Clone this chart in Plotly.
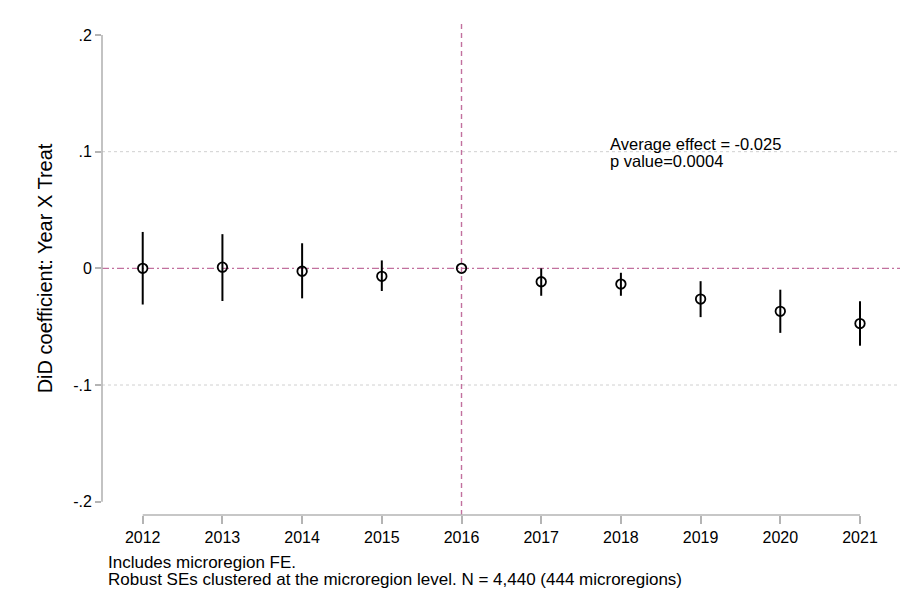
import plotly.graph_objects as go

years = [2012, 2013, 2014, 2015, 2016, 2017, 2018, 2019, 2020, 2021]
coef = [0.000, 0.001, -0.0025, -0.0068, 0.000, -0.0115, -0.0135, -0.0263, -0.0368, -0.0473]
ci_low = [-0.0310, -0.0280, -0.0257, -0.0194, 0.000, -0.0235, -0.0235, -0.0418, -0.0553, -0.0663]
ci_high = [0.0312, 0.0293, 0.0215, 0.0068, 0.000, 0.0000, -0.0038, -0.0110, -0.0183, -0.0282]
ytick_vals = [-0.2, -0.1, 0, 0.1, 0.2]
ytick_text = ["-.2", "-.1", "0", ".1", ".2"]
event_year = 2016
note_lines = ["Includes microregion FE.",
              "Robust SEs clustered at the microregion level. N = 4,440 (444 microregions)"]
effect_text = ["Average effect = -0.025", "p value=0.0004"]

err_plus = [h - c for h, c in zip(ci_high, coef)]
err_minus = [c - l for c, l in zip(coef, ci_low)]

FONT = "Liberation Sans, Arial, sans-serif"
AXCOL = "#b4b4b4"
REFCOL = "#c2709e"

fig = go.Figure()
fig.add_trace(go.Scatter(
    x=years, y=coef, mode="markers",
    marker=dict(symbol="circle-open", size=9.5, color="black", line=dict(width=1.8, color="black")),
    error_y=dict(type="data", symmetric=False, array=err_plus, arrayminus=err_minus,
                 width=0, thickness=2, color="black"),
    showlegend=False, cliponaxis=False,
))

shapes = []
# gridlines
for g in [0.1, -0.1]:
    shapes.append(dict(type="line", xref="paper", yref="y", x0=0, x1=1, y0=g, y1=g,
                       line=dict(color="#d0d0d0", width=1, dash="dot"), layer="below"))
# reference lines
shapes.append(dict(type="line", xref="paper", yref="y", x0=0, x1=1, y0=0, y1=0,
                   line=dict(color=REFCOL, width=1.4, dash="7px,3px,2px,3px"), layer="below"))
shapes.append(dict(type="line", xref="x", yref="paper", x0=event_year, x1=event_year, y0=0, y1=1,
                   line=dict(color=REFCOL, width=1.4, dash="5px,4px"), layer="below"))
# detached axis lines
shapes.append(dict(type="line", xref="paper", yref="y", x0=0, x1=0, y0=-0.2, y1=0.2,
                   line=dict(color=AXCOL, width=1.6)))
shapes.append(dict(type="line", xref="x", yref="paper", x0=years[0], x1=years[-1], y0=0, y1=0,
                   line=dict(color=AXCOL, width=1.6)))

annotations = [
    dict(text="DiD coefficient: Year X Treat", xref="paper", yref="y", x=0, xshift=-57, y=0,
         xanchor="center", yanchor="middle", textangle=-90, showarrow=False,
         font=dict(family=FONT, size=20, color="black")),
]
for i, line in enumerate(effect_text):
    annotations.append(dict(text=line, xref="x", yref="y", x=2017.84, y=0.1065, yshift=-17 * i,
                            xanchor="left", yanchor="middle", showarrow=False,
                            font=dict(family=FONT, size=16.5, color="black")))
for i, line in enumerate(note_lines):
    annotations.append(dict(text=line, xref="paper", yref="paper", x=0, xshift=4, y=0,
                            yshift=-47 - 17 * i, xanchor="left", yanchor="middle",
                            showarrow=False, font=dict(family=FONT, size=17, color="black")))

fig.update_layout(
    width=914, height=607,
    margin=dict(l=94, r=22, t=13, b=100),
    plot_bgcolor="white", paper_bgcolor="white",
    shapes=shapes, annotations=annotations,
    font=dict(family=FONT, color="black"),
    xaxis=dict(range=[2011.489, 2021.502], tickvals=years, ticktext=[str(y) for y in years],
               showgrid=False, zeroline=False, showline=False,
               ticks="outside", ticklen=8, tickwidth=1.5, tickcolor=AXCOL,
               tickfont=dict(family=FONT, size=16, color="black")),
    yaxis=dict(range=[-0.2114, 0.212], tickvals=ytick_vals, ticktext=ytick_text,
               showgrid=False, zeroline=False, showline=False,
               ticks="outside", ticklen=6, tickwidth=1.5, tickcolor=AXCOL,
               tickfont=dict(family=FONT, size=16, color="black")),
)

fig.write_html("out.html")
